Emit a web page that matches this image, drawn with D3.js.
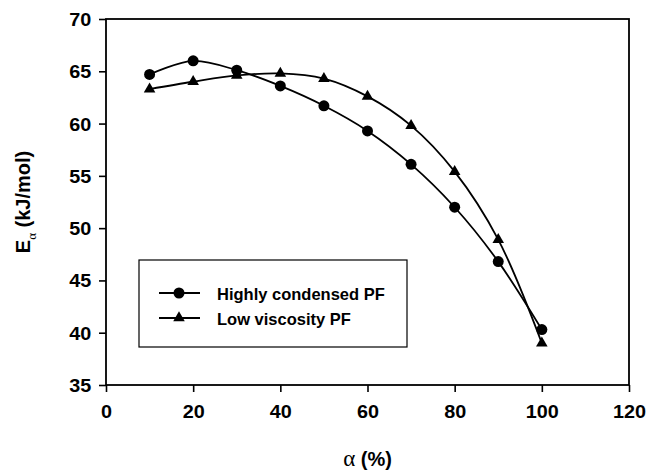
<!DOCTYPE html>
<html>
<head>
<meta charset="utf-8">
<script src="https://cdn.jsdelivr.net/npm/d3@7"></script>
<style>
  body { margin: 0; background: #fff; }
  svg { display: block; }
  .axis text { font-family: Arial, "Liberation Sans", sans-serif; font-weight: bold; font-size: 18px; fill: #000; }
  .axis path, .axis line { stroke: #000; stroke-width: 1.6; }
</style>
</head>
<body>
<svg id="chart" width="649" height="473"></svg>
<script>
const alphaPct = [10, 20, 30, 40, 50, 60, 70, 80, 90, 100];
const highlyCondensed = [64.7, 66.0, 65.1, 63.6, 61.7, 59.3, 56.1, 52.0, 46.8, 40.3];
const lowViscosity = [63.3, 64.0, 64.6, 64.8, 64.3, 62.6, 59.8, 55.4, 48.9, 39.0];
const xTicks = [0, 20, 40, 60, 80, 100, 120];
const yTicks = [35, 40, 45, 50, 55, 60, 65, 70];
const seriesNames = ["Highly condensed PF", "Low viscosity PF"];

const svg = d3.select("#chart");
const margin = { left: 106, right: 20, top: 19, bottom: 88 };
const width = 649, height = 473;

const x = d3.scaleLinear().domain([0, 120]).range([margin.left, width - margin.right]);
const y = d3.scaleLinear().domain([35, 70]).range([height - margin.bottom, margin.top]);

// frame
svg.append("rect")
  .attr("x", x(0)).attr("y", y(70))
  .attr("width", x(120) - x(0)).attr("height", y(35) - y(70))
  .attr("fill", "none").attr("stroke", "#000").attr("stroke-width", 1.8);

const xAxis = svg.append("g").attr("class", "axis")
  .attr("transform", `translate(0,${y(35)})`)
  .call(d3.axisBottom(x).tickValues(xTicks).tickSize(7).tickSizeOuter(0).tickPadding(13));
xAxis.select(".domain").remove();
xAxis.selectAll("text").attr("transform", "scale(1.1,1)");

const yAxis = svg.append("g").attr("class", "axis")
  .attr("transform", `translate(${x(0)},0)`)
  .call(d3.axisLeft(y).tickValues(yTicks).tickSize(7).tickSizeOuter(0).tickPadding(6.5));
yAxis.select(".domain").remove();
yAxis.selectAll("text").attr("dy", "0.36em").attr("transform", "scale(1.1,1)");

// series
const line = d3.line()
  .x((d) => x(d[0]))
  .y((d) => y(d[1]))
  .curve(d3.curveCatmullRom.alpha(0.5));

const circleData = alphaPct.map((a, i) => [a, highlyCondensed[i]]);
const triData = alphaPct.map((a, i) => [a, lowViscosity[i]]);

const tri = d3.symbol().type(d3.symbolTriangle).size(58);

[circleData, triData].forEach((data) => {
  svg.append("path").datum(data)
    .attr("d", line)
    .attr("fill", "none").attr("stroke", "#000").attr("stroke-width", 1.8);
});

svg.append("g").selectAll("circle").data(circleData).join("circle")
  .attr("cx", (d) => x(d[0])).attr("cy", (d) => y(d[1]))
  .attr("r", 5.5).attr("fill", "#000");

svg.append("g").selectAll("path").data(triData).join("path")
  .attr("transform", (d) => `translate(${x(d[0])},${y(d[1])})`)
  .attr("d", tri).attr("fill", "#000");

// legend
const lg = svg.append("g").attr("transform", "translate(139,260)");
lg.append("rect").attr("width", 268).attr("height", 87)
  .attr("fill", "#fff").attr("stroke", "#000").attr("stroke-width", 1.2);
seriesNames.forEach((name, i) => {
  const ly = 33 + i * 25;
  lg.append("line").attr("x1", 20).attr("x2", 61).attr("y1", ly).attr("y2", ly)
    .attr("stroke", "#000").attr("stroke-width", 1.8);
  if (i === 0) {
    lg.append("circle").attr("cx", 40).attr("cy", ly).attr("r", 5.5).attr("fill", "#000");
  } else {
    lg.append("path").attr("transform", `translate(40,${ly})`).attr("d", tri).attr("fill", "#000");
  }
  lg.append("text").attr("x", 78).attr("y", ly + 1).attr("dy", "0.36em")
    .attr("font-family", "Arial, 'Liberation Sans', sans-serif")
    .attr("font-weight", "bold").attr("font-size", 16.5)
    .text(name);
});

// axis titles
const xt = svg.append("text")
  .attr("x", (x(0) + x(120)) / 2).attr("y", 466)
  .attr("text-anchor", "middle")
  .attr("font-family", "Arial, 'Liberation Sans', sans-serif")
  .attr("font-weight", "bold").attr("font-size", 20);
xt.append("tspan").attr("font-family", "'Liberation Serif', 'DejaVu Serif', serif")
  .attr("font-weight", "normal").attr("font-size", 23).text("α");
xt.append("tspan").text(" (%)");

const yt = svg.append("text")
  .attr("transform", `translate(30,${(y(35) + y(70)) / 2}) rotate(-90)`)
  .attr("text-anchor", "middle")
  .attr("font-family", "Arial, 'Liberation Sans', sans-serif")
  .attr("font-weight", "bold").attr("font-size", 20);
yt.append("tspan").text("E");
yt.append("tspan").attr("font-family", "'Liberation Serif', 'DejaVu Serif', serif")
  .attr("font-weight", "normal").attr("font-size", 13).attr("dy", 6).text("α");
yt.append("tspan").attr("dy", -6).text(" (kJ/mol)");
</script>
</body>
</html>
